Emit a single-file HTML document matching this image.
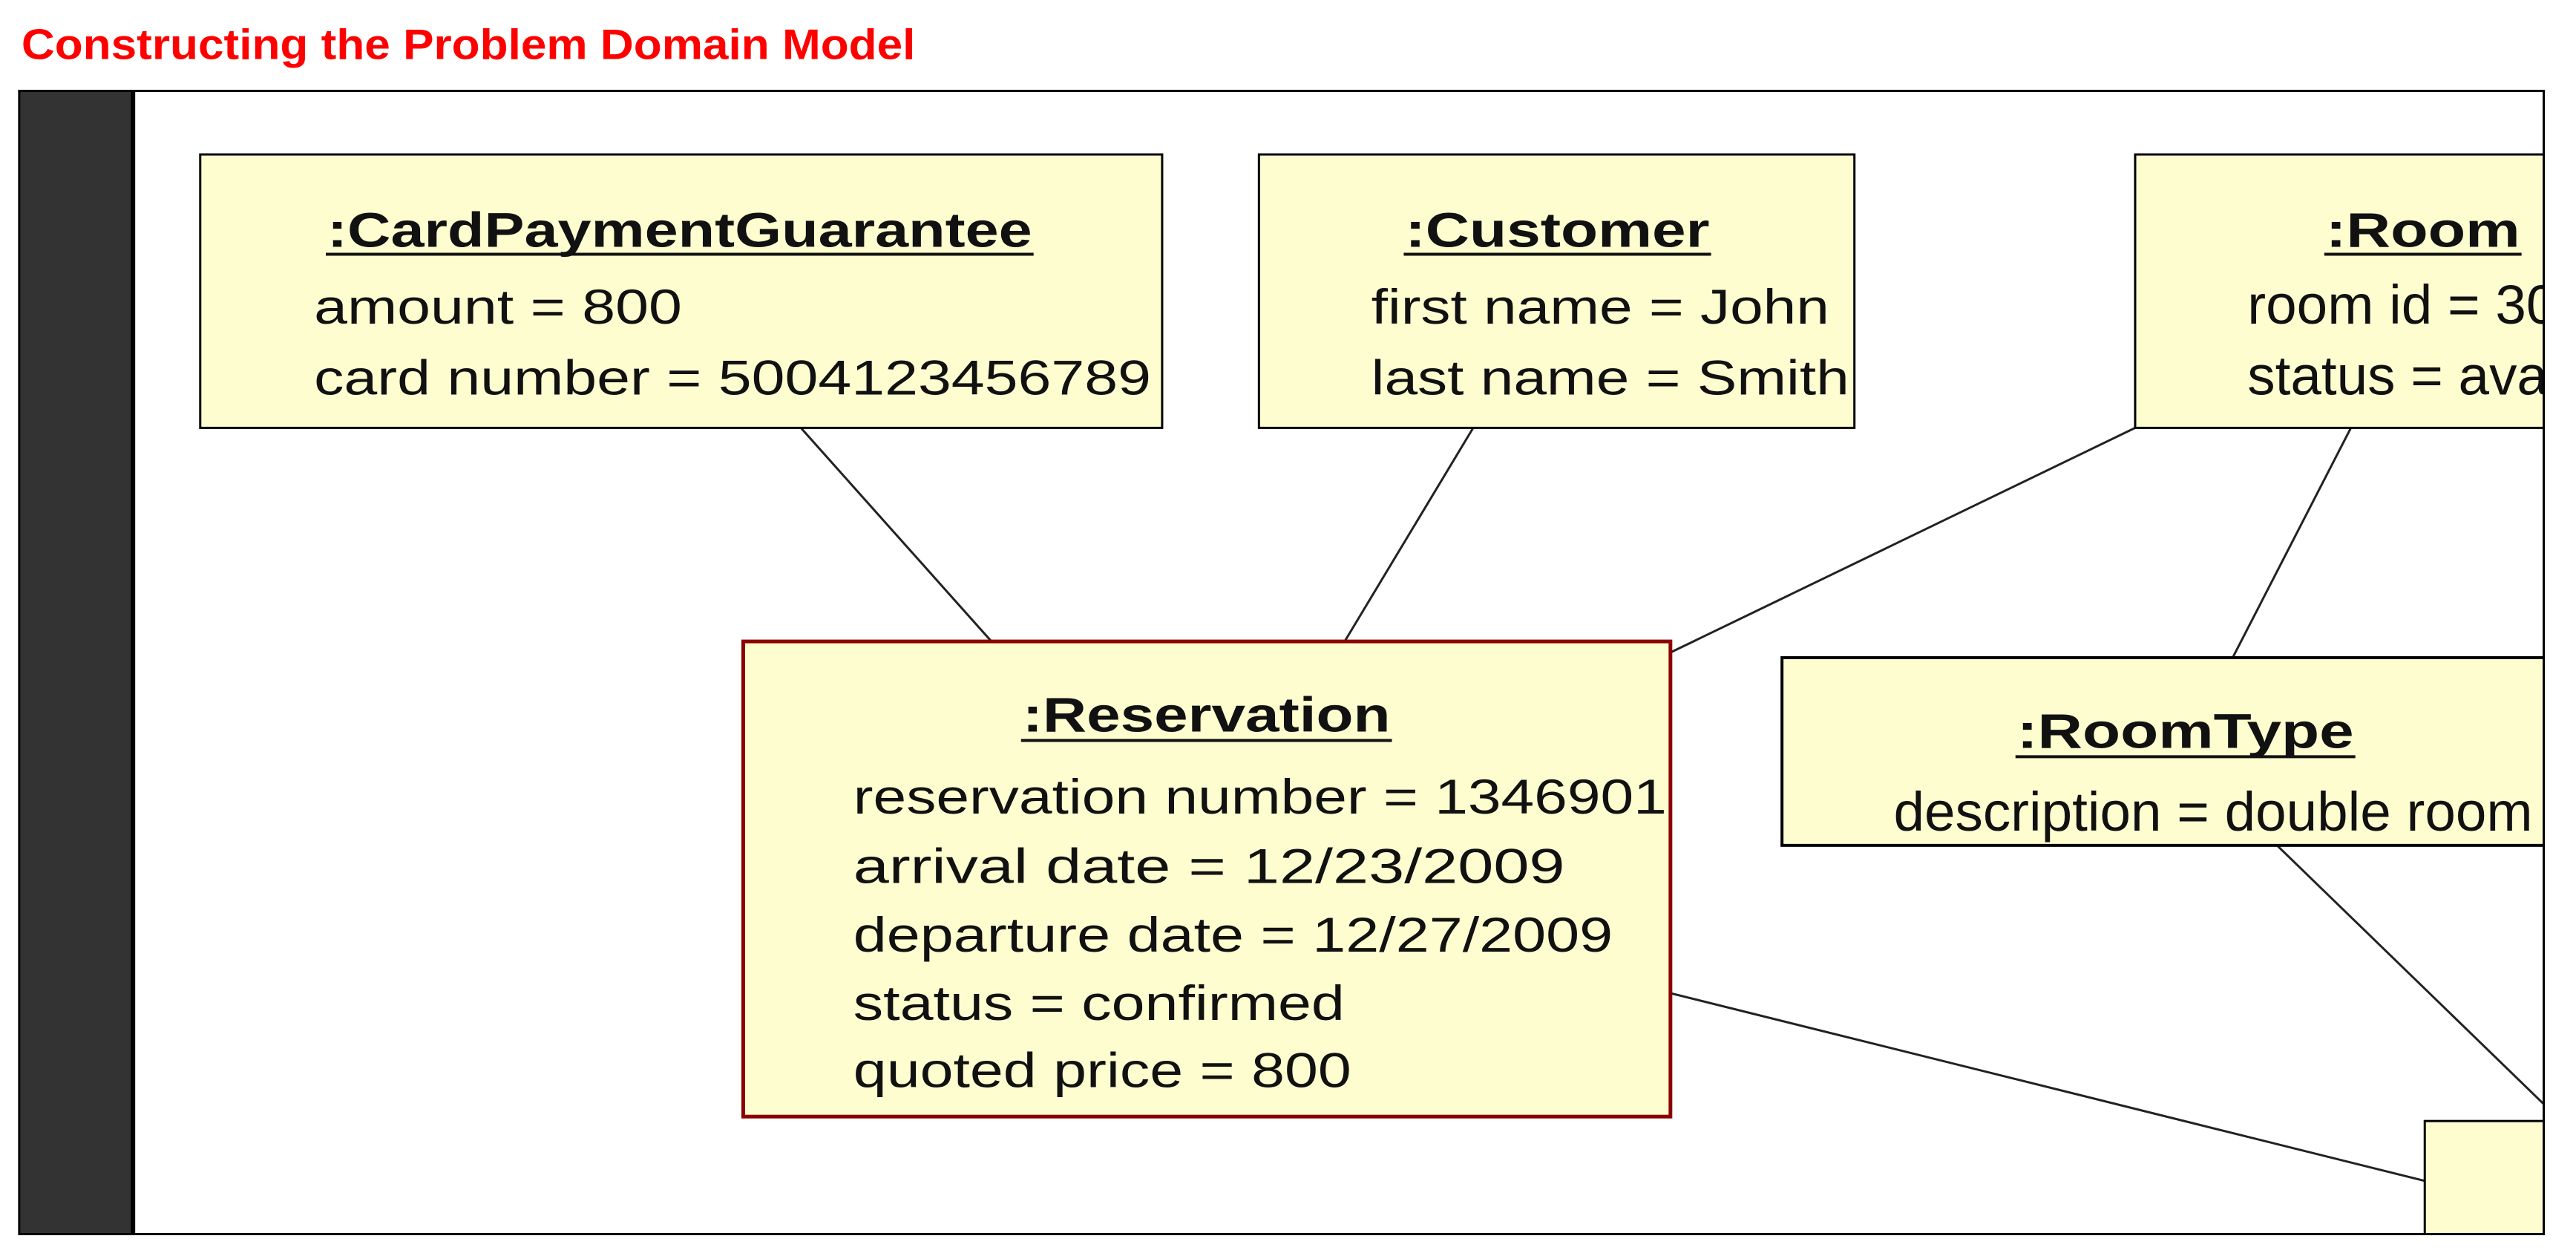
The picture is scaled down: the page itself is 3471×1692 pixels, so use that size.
<!DOCTYPE html>
<html><head><meta charset="utf-8"><style>
html,body{margin:0;padding:0;background:#fff;width:3471px;height:1692px;overflow:hidden}
svg{display:block}
text{font-family:"Liberation Sans",Arial,sans-serif;fill:#111}
</style></head><body>
<svg width="3471" height="1692" viewBox="0 0 3471 1692" xmlns="http://www.w3.org/2000/svg">
<defs><clipPath id="c"><rect x="180" y="124" width="3262" height="1545"/></clipPath></defs>
<g transform="scale(0.9955)">
<text x="29" y="80" font-size="58" font-weight="bold" style="fill:#f00" textLength="1210" lengthAdjust="spacingAndGlyphs">Constructing the Problem Domain Model</text>
<rect x="25" y="122" width="155" height="1549" fill="#333"/>
<rect x="180" y="122" width="3264" height="1549" fill="#fff"/>
<line x1="180" y1="122" x2="180" y2="1671" stroke="#000" stroke-width="6"/>
<g clip-path="url(#c)" stroke-width="3">
<g stroke="#222" stroke-width="3">
<line x1="1084" y1="579" x2="1342" y2="868"/>
<line x1="1994" y1="579" x2="1820" y2="868"/>
<line x1="2890" y1="579" x2="2261" y2="883"/>
<line x1="3182" y1="579" x2="3022" y2="890"/>
<line x1="3082" y1="1144" x2="3444" y2="1495"/>
<line x1="2261" y1="1344" x2="3282" y2="1598"/>
</g>
<g fill="#fefdd0" stroke="#000">
<rect x="271" y="209" width="1302" height="370"/>
<rect x="1704" y="209" width="806" height="370"/>
<rect x="2890" y="209" width="600" height="370"/>
<rect x="2412" y="890" width="1080" height="254" stroke-width="4"/>
<rect x="3282" y="1517" width="200" height="200"/>
<rect x="1006" y="868" width="1255" height="643" stroke="#8b0000" stroke-width="5"/>
</g>
<g stroke="#111" stroke-width="4">
<line x1="441" y1="344" x2="1399" y2="344"/>
<line x1="1900" y1="344" x2="2316" y2="344"/>
<line x1="3146" y1="344" x2="3413" y2="344"/>
<line x1="1382" y1="1002" x2="1884" y2="1002"/>
<line x1="2728" y1="1024" x2="3188" y2="1024"/>
</g>
<g font-weight="bold" font-size="66">
<text x="443" y="334" textLength="954" lengthAdjust="spacingAndGlyphs">:CardPaymentGuarantee</text>
<text x="1902" y="334" textLength="412" lengthAdjust="spacingAndGlyphs">:Customer</text>
<text x="3148" y="334" textLength="263" lengthAdjust="spacingAndGlyphs">:Room</text>
<text x="1384" y="990" textLength="498" lengthAdjust="spacingAndGlyphs">:Reservation</text>
<text x="2730" y="1012" textLength="456" lengthAdjust="spacingAndGlyphs">:RoomType</text>
</g>
<g font-size="66">
<text x="425" y="438" textLength="498" lengthAdjust="spacingAndGlyphs">amount = 800</text>
<text x="425" y="534" textLength="1133" lengthAdjust="spacingAndGlyphs">card number = 5004123456789</text>
<text x="1856" y="438" textLength="620" lengthAdjust="spacingAndGlyphs">first name = John</text>
<text x="1856" y="534" textLength="647" lengthAdjust="spacingAndGlyphs">last name = Smith</text>
<text x="3042" y="438" font-size="75">room id = 301</text>
<text x="3042" y="534" font-size="75">status = available</text>
<text x="1155" y="1101" textLength="1101" lengthAdjust="spacingAndGlyphs">reservation number = 1346901</text>
<text x="1155" y="1195" textLength="963" lengthAdjust="spacingAndGlyphs">arrival date = 12/23/2009</text>
<text x="1155" y="1288" textLength="1028" lengthAdjust="spacingAndGlyphs">departure date = 12/27/2009</text>
<text x="1155" y="1380" textLength="665" lengthAdjust="spacingAndGlyphs">status = confirmed</text>
<text x="1155" y="1471" textLength="674" lengthAdjust="spacingAndGlyphs">quoted price = 800</text>
<text x="2563" y="1124" font-size="75">description = double room</text>
</g>
</g>
<rect x="26" y="123" width="3417" height="1547" fill="none" stroke="#000" stroke-width="3"/>
</g>
</svg>
</body></html>
